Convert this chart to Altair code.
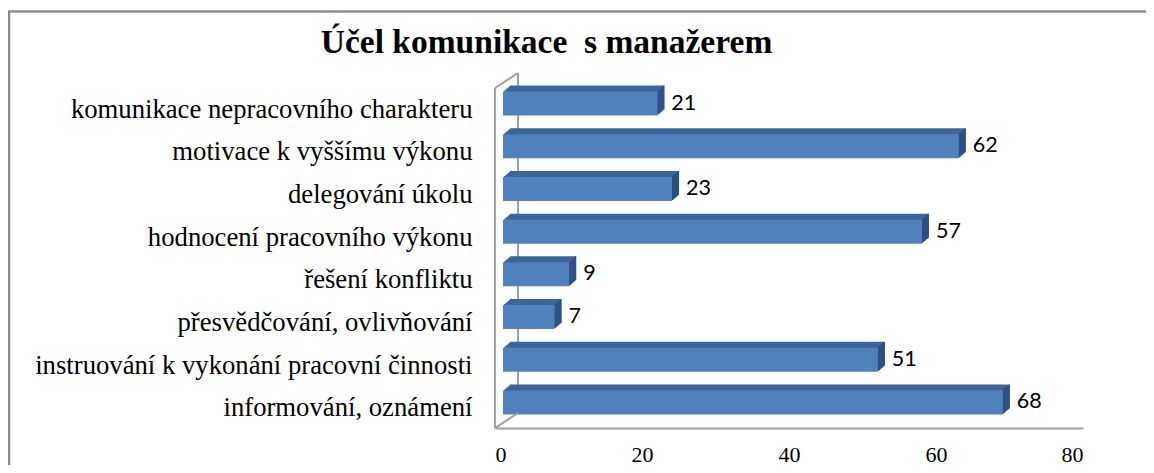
import altair as alt
import pandas as pd

title_text = "Účel komunikace\u00a0 s manažerem"
categories = [
    "komunikace nepracovního charakteru",
    "motivace k vyššímu výkonu",
    "delegování úkolu",
    "hodnocení pracovního výkonu",
    "řešení konfliktu",
    "přesvědčování, ovlivňování",
    "instruování k vykonání pracovní činnosti",
    "informování, oznámení",
]
values = [21, 62, 23, 57, 9, 7, 51, 68]
x_ticks = [0, 20, 40, 60, 80]

df = pd.DataFrame({"cat": categories, "v": values})
one = pd.DataFrame({"t": [title_text]})

FRONT = "#4F81BD"
TOP = "#3C659A"
SIDE = "#2C4E7E"
WALL = "#A0A0A0"
BORDER = "#8C8C8C"

W, H = 588, 350
yscale = alt.Scale(domain=categories, paddingInner=0, paddingOuter=0.1)
yaxis = alt.Axis(
    title=None, domain=False, ticks=False, labelFont="Liberation Serif",
    labelFontSize=26.7, labelColor="black", labelAlign="right", labelPadding=23,
    labelBaseline="alphabetic", labelOffset=14, labelLimit=800,
)
xscale = alt.Scale(domain=[0, 80], nice=False)
xaxis = alt.Axis(
    title=None, values=x_ticks, grid=False, ticks=False, tickSize=0, domain=True,
    domainColor=WALL, domainWidth=2, labelFont="Liberation Serif",
    labelFontSize=22, labelColor="black", labelBaseline="alphabetic",
    labelPadding=33,
)

Y = alt.Y("cat:N", sort=categories, scale=yscale, axis=yaxis)
X = alt.X("v:Q", scale=xscale, axis=xaxis)

base = alt.Chart(df)
layers = []

deco = alt.Chart(one)
# outer border
layers.append(deco.mark_rule(color=BORDER, strokeWidth=2.5).encode(
    x=alt.value(-487), x2=alt.value(667), y=alt.value(-66.5), y2=alt.value(-66.5)))
layers.append(deco.mark_rule(color=BORDER, strokeWidth=2.5).encode(
    x=alt.value(-486), x2=alt.value(-486), y=alt.value(-66.5), y2=alt.value(400)))
# back wall edge
layers.append(deco.mark_rule(color=WALL, strokeWidth=2).encode(
    x=alt.value(23), x2=alt.value(23), y=alt.value(-5), y2=alt.value(335)))

# extrusion (top face colour)
for k in range(1, 7):
    off = 8 + 7 * k / 6
    layers.append(base.mark_bar(size=24, color=TOP, xOffset=off, x2Offset=off,
                                yOffset=-k).encode(x=X, y=Y))
# side face columns
for j in range(1, 8):
    layers.append(base.mark_bar(size=24, color=SIDE, xOffset=8 + j - 1,
                                x2Offset=8 + j, yOffset=-6 * j / 7).encode(
        x=X, x2=alt.X2("v:Q"), y=Y))
# front face
layers.append(base.mark_bar(size=24, color=FRONT, xOffset=8, x2Offset=8).encode(x=X, y=Y))
# value labels
layers.append(base.mark_text(align="left", baseline="middle", dx=22, font="Lato",
                             fontSize=21.5, color="black").encode(x=X, y=Y, text="v:Q"))
# front wall lines
layers.append(deco.mark_rule(color=WALL, strokeWidth=2).encode(
    x=alt.value(0), x2=alt.value(0), y=alt.value(10), y2=alt.value(350)))
layers.append(deco.mark_rule(color=WALL, strokeWidth=2).encode(
    x=alt.value(0), x2=alt.value(23), y=alt.value(10), y2=alt.value(-5)))
layers.append(deco.mark_rule(color=WALL, strokeWidth=2).encode(
    x=alt.value(0), x2=alt.value(23), y=alt.value(350), y2=alt.value(335)))
# title
layers.append(deco.mark_text(align="center", baseline="alphabetic",
                             font="Liberation Serif", fontSize=33.5, fontWeight="bold",
                             color="black").encode(
    text="t:N", x=alt.value(51.5), y=alt.value(-25)))

chart = alt.layer(*layers).properties(
    width=W, height=H,
    autosize=alt.AutoSizeParams(type="none"),
    padding={"left": 487, "top": 70, "right": 63, "bottom": 37},
    background="white",
).configure_view(stroke=None)

chart.save("out.html", embed_options={"renderer": "svg", "actions": False})
